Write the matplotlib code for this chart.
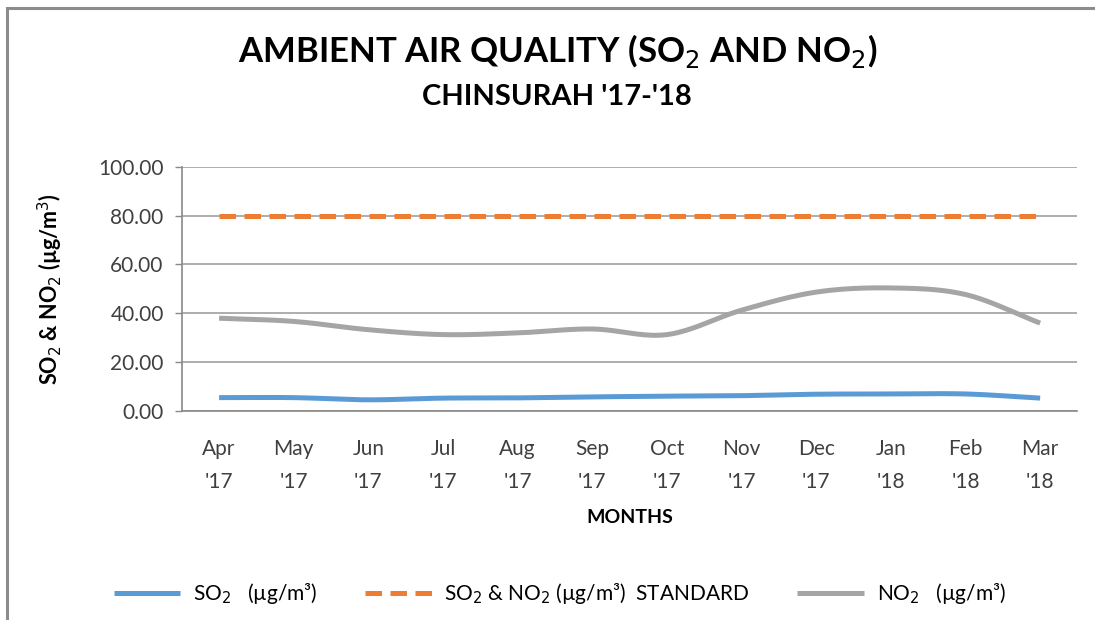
import matplotlib
matplotlib.use("Agg")
import matplotlib.pyplot as plt
import numpy as np
from matplotlib.patches import Rectangle

plt.rcParams['font.family'] = ['Lato', 'DejaVu Sans']

months = ["Apr\n'17", "May\n'17", "Jun\n'17", "Jul\n'17", "Aug\n'17", "Sep\n'17",
          "Oct\n'17", "Nov\n'17", "Dec\n'17", "Jan\n'18", "Feb\n'18", "Mar\n'18"]
so2 = [5.5, 5.5, 4.6, 5.3, 5.4, 5.8, 6.1, 6.3, 6.9, 7.0, 7.0, 5.3]
standard = [80, 80, 80, 80, 80, 80, 80, 80, 80, 80, 80, 80]
no2 = [38.0, 36.7, 33.3, 31.3, 32.0, 33.6, 31.3, 41.3, 48.7, 50.4, 47.7, 36.0]
yticks = [0, 20, 40, 60, 80, 100]


def smooth(x, y, n=20):
    # catmull-rom style smoothing, like excel's "smoothed line"
    x = np.asarray(x, float)
    y = np.asarray(y, float)
    px = np.concatenate([[2 * x[0] - x[1]], x, [2 * x[-1] - x[-2]]])
    py = np.concatenate([[2 * y[0] - y[1]], y, [2 * y[-1] - y[-2]]])
    xs, ys = [], []
    t = np.linspace(0, 1, n, endpoint=False)
    for i in range(1, len(px) - 2):
        for p, out in ((px, xs), (py, ys)):
            p0, p1, p2, p3 = p[i - 1], p[i], p[i + 1], p[i + 2]
            out.extend(0.5 * ((2 * p1) + (-p0 + p2) * t
                              + (2 * p0 - 5 * p1 + 4 * p2 - p3) * t ** 2
                              + (-p0 + 3 * p1 - 3 * p2 + p3) * t ** 3))
    xs.append(x[-1])
    ys.append(y[-1])
    return np.array(xs), np.array(ys)


fig = plt.figure(figsize=(10.95, 6.2), dpi=100)
ax = fig.add_axes([0.166, 0.337, 0.818, 0.394])

x = np.arange(len(months))
ax.plot(*smooth(x, so2), color='#5B9BD5', lw=3.6, solid_capstyle='butt',
        label='SO$_2$   (µg/m³)')
ax.plot(x, standard, color='#ED7D31', lw=3.6, ls=(0, (3.3, 1.7)),
        label='SO$_2$ & NO$_2$ (µg/m³)  STANDARD')
ax.plot(*smooth(x, no2), color='#A5A5A5', lw=3.6, solid_capstyle='butt',
        label='NO$_2$   (µg/m³)')

ax.set_xlim(-0.5, len(months) - 0.5)
ax.set_ylim(0, 100)
ax.set_yticks(yticks)
ax.set_yticklabels(['{:.2f}'.format(v) for v in yticks], fontsize=15, color='#404040')
ax.set_xticks(x)
ax.set_xticklabels(months, fontsize=15, color='#404040', linespacing=1.85)
ax.tick_params(axis='x', length=0, pad=20)
ax.tick_params(axis='y', length=5, width=1, color='#898989', pad=8)
ax.grid(axis='y', color='#A0A0A0', lw=1.2)
ax.set_axisbelow(True)
for s in ['top', 'right']:
    ax.spines[s].set_visible(False)
for s in ['left', 'bottom']:
    ax.spines[s].set_color('#898989')
    ax.spines[s].set_linewidth(1.2)

ax.set_xlabel('MONTHS', fontsize=14, fontweight='bold', labelpad=12)
ax.set_ylabel('SO$_2$ & NO$_2$ (µg/m$^3$)', fontsize=15.5, fontweight='bold', labelpad=24)

fig.text(0.509, 0.918, 'AMBIENT AIR QUALITY (SO$_2$ AND NO$_2$)', ha='center', va='center',
         fontsize=25, fontweight='bold')
fig.text(0.509, 0.843, "CHINSURAH '17-'18", ha='center', va='center',
         fontsize=21, fontweight='bold')

fig.legend(loc='center', bbox_to_anchor=(0.511, 0.043), ncol=3, frameon=False,
           fontsize=15, handlelength=3.2, columnspacing=2.3, handletextpad=0.6)

# chart border (only left/top visible in the source crop)
fig.patches.append(Rectangle((7 / 1095, -0.1), 1.2, 1.1 - 8 / 620, transform=fig.transFigure,
                             fill=False, edgecolor='#8c8c8c', lw=2.2))

fig.savefig('out.png', dpi=100)
